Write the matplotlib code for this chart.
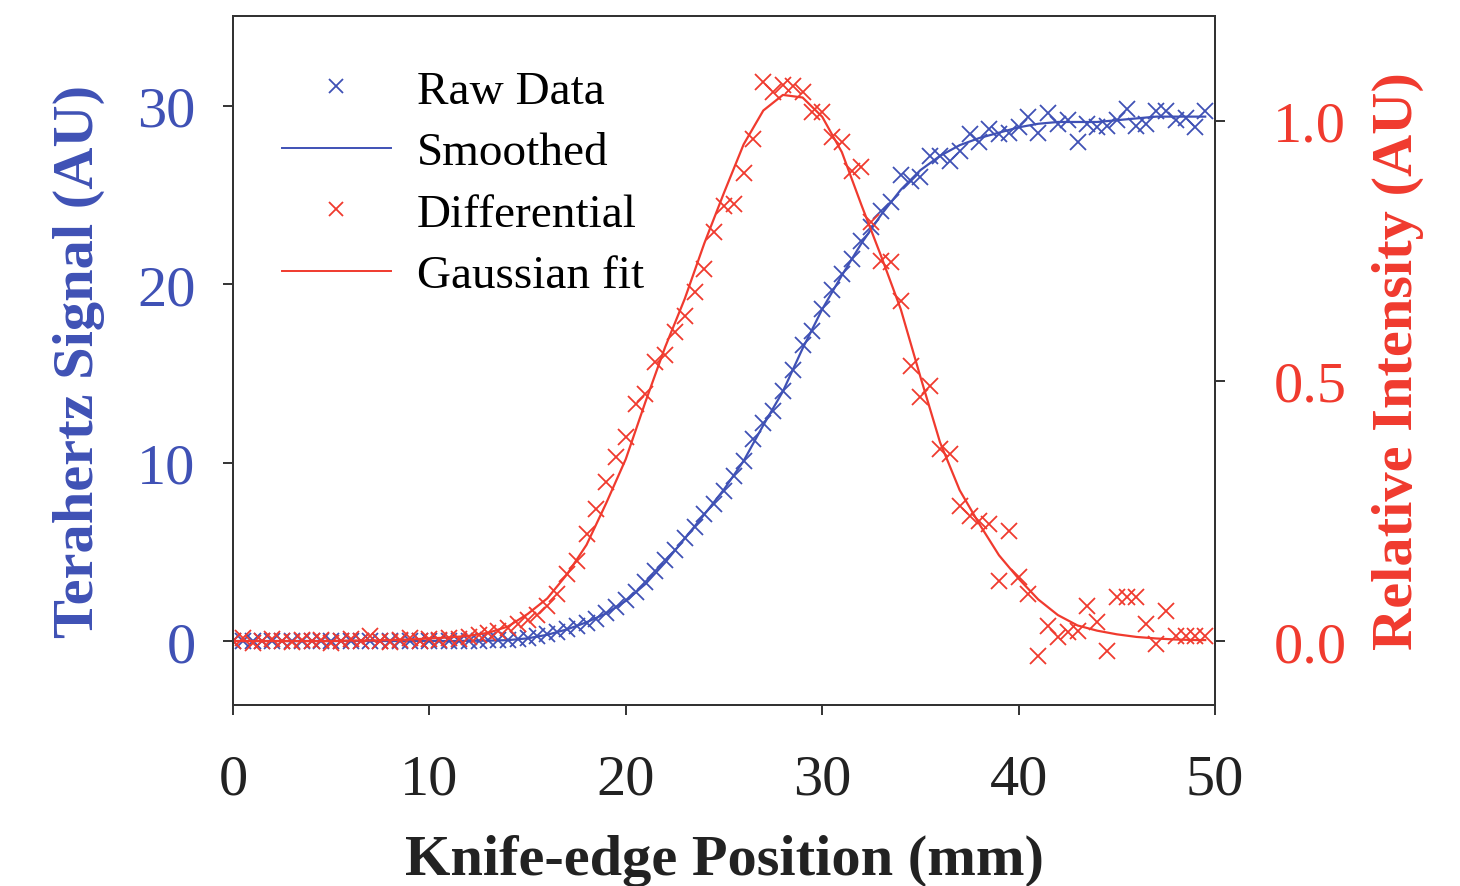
import matplotlib
matplotlib.use("Agg")
import matplotlib.pyplot as plt
from matplotlib.lines import Line2D
import numpy as np

plt.rcParams['font.family'] = ['Liberation Serif', 'DejaVu Serif']

BLUE = '#3f51b5'
RED = '#f03a2e'

# knife-edge positions (mm), 0.5 mm steps
position = np.arange(0, 50, 0.5)

# terahertz signal, raw (AU)
raw_signal = [
    0.00, 0.01, -0.01, 0.00, 0.01, 0.00, -0.01, 0.00, 0.01, 0.00,
    0.00, -0.01, 0.01, 0.00, 0.00, 0.01, 0.00, -0.01, 0.00, 0.01,
    0.00, 0.01, 0.00, 0.01, 0.02, 0.02, 0.03, 0.04,
    0.06, 0.10, 0.16, 0.26, 0.38, 0.52, 0.68, 0.84, 1.02, 1.25,
    1.55, 1.90, 2.30, 2.75, 3.30, 3.90, 4.55, 5.10, 5.75, 6.40,
    7.10, 7.70, 8.40, 9.25, 10.1, 11.3, 12.2, 12.9, 14.0, 15.2,
    16.6, 17.4, 18.6, 19.7, 20.6, 21.4, 22.4, 23.2, 24.1, 24.6,
    26.1, 25.8, 26.0, 27.2, 27.2, 26.9, 27.5, 28.4, 28.0, 28.7,
    28.4, 28.5, 28.8, 29.4, 28.5, 29.6, 29.0, 29.2, 28.0, 29.0,
    28.8, 28.9, 29.2, 29.8, 28.9, 29.0, 29.7, 29.7, 29.2, 29.3,
    28.8, 29.7,
]

# differential of the signal, normalised (AU)
differential = [
    0.000, 0.005, -0.003, 0.000, 0.004, 0.000, -0.002, 0.003, 0.000, 0.002,
    -0.003, 0.000, 0.004, 0.000, 0.010, 0.000, -0.002, 0.003, 0.005, 0.000,
    0.004, 0.002, 0.006, 0.004,
    0.008, 0.012, 0.016, 0.020, 0.026, 0.032, 0.040, 0.050, 0.067, 0.090,
    0.129, 0.154, 0.206, 0.254, 0.306, 0.354, 0.392, 0.456, 0.475, 0.537,
    0.550, 0.594, 0.625, 0.671, 0.715, 0.786, 0.837, 0.840, 0.900, 0.965,
    1.075, 1.056, 1.070, 1.067, 1.056, 1.017, 1.017, 0.969, 0.960, 0.904,
    0.912, 0.806, 0.731, 0.728, 0.654, 0.529, 0.470, 0.490, 0.370, 0.360,
    0.260, 0.240, 0.231, 0.225, 0.115, 0.212, 0.123, 0.090, -0.029, 0.029,
    0.008, 0.017, 0.019, 0.067, 0.036, -0.019, 0.085, 0.085, 0.085, 0.033,
    -0.006, 0.058, 0.010, 0.010, 0.010, 0.010,
]

# curves, 1 mm steps
curve_pos = list(range(0, 50)) + [49.5]
smoothed = [
    0, 0, 0, 0, 0, 0, 0, 0, 0, 0,
    0, 0, 0.01, 0.02, 0.05, 0.15, 0.35, 0.65, 1.05, 1.55,
    2.25, 3.2, 4.4, 5.75, 7.1, 8.5, 10.1, 12.1, 14.0, 16.4,
    18.6, 20.5, 22.3, 23.9, 25.3, 26.4, 27.2, 27.8, 28.2, 28.5,
    28.8, 29.0, 29.1, 29.1, 29.1, 29.2, 29.3, 29.4, 29.4, 29.4,
    29.4,
]
gauss_fit = [
    0.0, 0.0, 0.0, 0.0, 0.0, 0.0, 0.001, 0.001, 0.002, 0.003,
    0.005, 0.007, 0.010, 0.016, 0.028, 0.052, 0.082, 0.128, 0.185, 0.265,
    0.350, 0.460, 0.565, 0.658, 0.765, 0.862, 0.955, 1.020, 1.050, 1.045,
    1.008, 0.940, 0.838, 0.740, 0.638, 0.508, 0.382, 0.290, 0.225, 0.165,
    0.120, 0.080, 0.050, 0.030, 0.020, 0.013, 0.008, 0.005, 0.003, 0.002,
    0.002,
]


def main():
    fig = plt.figure(figsize=(14.6, 8.87), dpi=100)
    ax1 = fig.add_axes([0.1596, 0.204, 0.6726, 0.777])
    ax2 = ax1.twinx()

    ax1.plot(position, raw_signal, linestyle='none', marker='x', ms=12, mew=1.3, color=BLUE)
    ax1.plot(curve_pos, smoothed, '-', lw=1.6, color=BLUE)
    ax2.plot(position, differential, linestyle='none', marker='x', ms=12, mew=1.3, color=RED)
    ax2.plot(curve_pos, gauss_fit, '-', lw=1.6, color=RED)

    ax1.set_xlim(0, 50)
    ax1.set_ylim(-3.59, 35.05)
    ax2.set_ylim(-0.123, 1.202)
    ax1.set_xticks([0, 10, 20, 30, 40, 50])
    ax1.set_yticks([0, 10, 20, 30])
    ax2.set_yticks([0.0, 0.5, 1.0])
    ax2.set_yticklabels(['0.0', '0.5', '1.0'])

    for ax in (ax1, ax2):
        for sp in ax.spines.values():
            sp.set_color('#333333')
            sp.set_linewidth(1.4)
    ax1.tick_params(axis='x', length=7, width=1.4, colors='#333333', labelcolor='#222222',
                    labelsize=42, pad=28)
    ax1.tick_params(axis='y', length=7, width=1.4, colors='#333333', labelcolor=BLUE,
                    labelsize=42, pad=20)
    ax2.tick_params(axis='y', length=7, width=1.4, colors='#333333', labelcolor=RED,
                    labelsize=42, pad=35)

    ax1.set_xlabel('Knife-edge Position (mm)', fontsize=42, fontweight='bold', color='#222222',
                   labelpad=20)
    ax1.set_ylabel('Terahertz Signal (AU)', fontsize=42, fontweight='bold', color=BLUE, labelpad=23)
    ax2.set_ylabel('Relative Intensity (AU)', fontsize=42, fontweight='bold', color=RED, labelpad=18)

    handles = [
        Line2D([], [], linestyle='none', marker='x', ms=10, mew=1.3, color=BLUE),
        Line2D([], [], lw=1.4, color=BLUE),
        Line2D([], [], linestyle='none', marker='x', ms=10, mew=1.3, color=RED),
        Line2D([], [], lw=1.4, color=RED),
    ]
    labels = ['Raw Data', 'Smoothed', 'Differential', 'Gaussian fit']
    ax2.legend(handles, labels, loc='upper left', bbox_to_anchor=(0.05, 0.922), frameon=False,
               fontsize=34, handlelength=2.3, handletextpad=0.55, labelspacing=0.39,
               borderpad=0, borderaxespad=0)

    fig.savefig('out.png', dpi=100)


if __name__ == "__main__":
    main()
